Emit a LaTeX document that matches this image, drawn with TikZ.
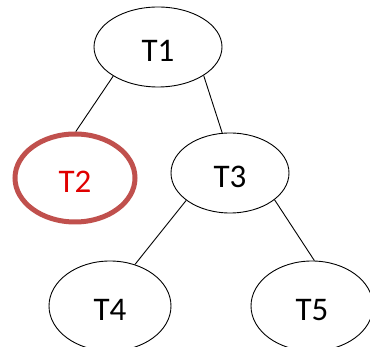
\documentclass[tikz,border=0pt]{standalone}
\usepackage{fontspec}
\setmainfont{Carlito}
\usetikzlibrary{shapes.geometric}
\definecolor{ringred}{HTML}{C0504D}
\definecolor{txtred}{HTML}{E00000}
\begin{document}
\begin{tikzpicture}[x=1pt,y=-1pt,
  tnode/.style={ellipse,draw=black,line width=0.9pt,inner sep=0pt,
    font=\fontsize{33}{40}\selectfont,text height=30pt,text depth=0pt},
  redring/.style={draw=ringred,line width=5pt,text=txtred},
  conn/.style={draw=black,line width=0.9pt}]
\useasboundingbox (0,0) rectangle (370,347);
\node[tnode,minimum width=128pt,minimum height=80pt] (t1) at (158,47) {T1};
\node[tnode,redring,minimum width=120pt,minimum height=88pt] (t2) at (75,178) {T2};
\node[tnode,minimum width=118pt,minimum height=80pt] (t3) at (230,173) {T3};
\node[tnode,minimum width=122pt,minimum height=90pt] (t4) at (110,306) {T4};
\node[tnode,minimum width=122pt,minimum height=90pt] (t5) at (312,306) {T5};
\draw[conn] (t1.-147) -- (t2.89);
\draw[conn] (t1.-32) -- (t3.101);
\draw[conn] (t3.-148) -- (t4.59);
\draw[conn] (t3.-31) -- (t5.87);
\end{tikzpicture}
\end{document}
